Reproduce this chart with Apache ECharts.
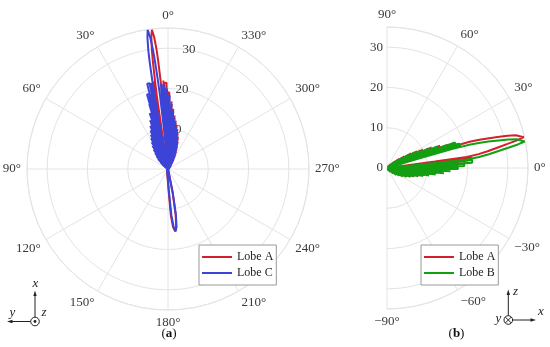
<!DOCTYPE html>
<html><head><meta charset="utf-8">
<script src="https://cdn.jsdelivr.net/npm/echarts@6/dist/echarts.min.js"></script>
<style>html,body{margin:0;padding:0;background:#fff}#c{width:550px;height:347px}</style>
</head><body><div id="c"></div>
<script>
// [angle (deg), value] pairs
const lobeA_left = [[0,19],[0.6,19],[0.8,0.2],[1.0,21.4],[2.6,21.4],[2.8,0.2],[3.0,22],[3.6,22],[3.8,0.2],[4.1,10],[4.5,18],[4.8,22],[5.2,27],[5.5,30],[6.0,33],[6.6,34.8],[7.2,33],[7.7,30],[8.0,27],[8.4,22],[8.7,18],[9.1,10],[9.4,0.2],[9.6,22],[10.0,22],[10.2,0.2],[10.4,21.5],[12.0,21.5],[12.2,0.2],[12.4,18.8],[14.0,18.8],[14.2,0.2],[14.4,16.4],[16.0,16.4],[16.2,0.2],[16.4,14.4],[18.1,14.4],[18.3,0.2],[18.5,12.8],[20.2,12.8],[20.4,0.2],[20.6,11.6],[22.4,11.6],[22.6,0.2],[22.8,10.5],[24.6,10.5],[24.8,0.2],[25.0,9.5],[26.9,9.5],[27.1,0.2],[27.3,8.6],[29.3,8.6],[29.5,0.2],[29.7,7.7],[31.8,7.7],[32.0,0.2],[32.2,6.8],[34.4,6.8],[34.6,0.2],[34.8,5.9],[37.1,5.9],[37.3,0.2],[37.5,5.0],[40.0,5.0],[40.2,0.2],[40.4,4.0],[43.1,4.0],[43.3,0.2],[43.5,3.0],[46.4,3.0],[46.6,0.2],[46.8,2.0],[50.0,2.0],[50.2,0.2],[50.4,1.2],[53.8,1.2],[54,0.2],[70,0.5],[90,0.4],[110,0.5],[130,0.4],[150,0.5],[170,0.5],[180,0.3],[180.5,0.2],[182,6],[183.5,11.5],[185,14.5],[186.5,15.6],[188,14.5],[189.5,11.5],[191,6],[192.5,0.2],[210,0.5],[230,0.4],[250,0.5],[270,0.4],[290,0.5],[310,0.4],[322,0.2],[322.2,1.1],[325.8,1.1],[326,0.2],[326.2,1.8],[329.1,1.8],[329.3,0.2],[329.5,2.7],[332.0,2.7],[332.2,0.2],[332.4,3.7],[334.7,3.7],[334.9,0.2],[335.1,4.8],[337.2,4.8],[337.4,0.2],[337.6,6.0],[339.6,6.0],[339.8,0.2],[340.0,7.2],[341.9,7.2],[342.1,0.2],[342.3,8.3],[344.1,8.3],[344.3,0.2],[344.5,9.2],[346.3,9.2],[346.5,0.2],[346.7,10.2],[348.4,10.2],[348.6,0.2],[348.8,11.2],[350.5,11.2],[350.7,0.2],[350.9,12.2],[352.6,12.2],[352.8,0.2],[353.0,13.4],[354.6,13.4],[354.8,0.2],[355.0,15.0],[356.6,15.0],[356.8,0.2],[357.0,16.8],[358.6,16.8],[358.8,0.2],[359.0,19],[360,19]];

const lobeC_left = [[0,18.2],[0.3,18.2],[0.5,0.2],[0.7,19.8],[2.3,19.8],[2.5,0.2],[2.7,20.8],[4.3,20.8],[4.5,0.2],[4.7,21.2],[5.3,21.2],[5.5,0.2],[5.8,10],[6.2,18],[6.5,22],[6.9,27],[7.2,30],[7.7,33],[8.3,35],[8.9,33],[9.4,30],[9.7,27],[10.1,22],[10.4,18],[10.8,10],[11.1,0.2],[11.3,21.8],[11.7,21.8],[11.9,0.2],[12.1,21.8],[13.7,21.8],[13.9,0.2],[14.1,19.2],[15.7,19.2],[15.9,0.2],[16.1,16.8],[17.7,16.8],[17.9,0.2],[18.1,14.6],[19.8,14.6],[20.0,0.2],[20.2,12.9],[21.9,12.9],[22.1,0.2],[22.3,11.6],[24.1,11.6],[24.3,0.2],[24.5,10.5],[26.3,10.5],[26.5,0.2],[26.7,9.5],[28.6,9.5],[28.8,0.2],[29.0,8.7],[31.0,8.7],[31.2,0.2],[31.4,7.8],[33.5,7.8],[33.7,0.2],[33.9,6.9],[36.1,6.9],[36.3,0.2],[36.5,6.0],[38.8,6.0],[39.0,0.2],[39.2,5.1],[41.7,5.1],[41.9,0.2],[42.1,4.3],[44.8,4.3],[45.0,0.2],[45.2,3.5],[48.1,3.5],[48.3,0.2],[48.5,2.6],[51.6,2.6],[51.8,0.2],[52.0,1.7],[55.3,1.7],[55.5,0.2],[55.7,1.0],[59.3,1.0],[59.5,0.2],[75,0.5],[95,0.4],[115,0.5],[135,0.4],[155,0.5],[172,0.5],[180,0.3],[181,0.2],[182.6,6],[184.2,11.5],[185.6,14.5],[187,15.6],[188.4,14.5],[189.8,11.5],[191.4,6],[193,0.2],[205,0.5],[225,0.4],[245,0.5],[265,0.4],[285,0.5],[305,0.4],[318,0.5],[323.7,0.2],[323.9,1.3],[327.5,1.3],[327.7,0.2],[327.9,2.1],[330.8,2.1],[331.0,0.2],[331.2,3.1],[333.7,3.1],[333.9,0.2],[334.1,4.2],[336.4,4.2],[336.6,0.2],[336.8,5.4],[338.9,5.4],[339.1,0.2],[339.3,6.6],[341.3,6.6],[341.5,0.2],[341.7,7.7],[343.6,7.7],[343.8,0.2],[344.0,8.6],[345.8,8.6],[346.0,0.2],[346.2,9.6],[348.0,9.6],[348.2,0.2],[348.4,10.6],[350.1,10.6],[350.3,0.2],[350.5,11.6],[352.2,11.6],[352.4,0.2],[352.6,12.8],[354.3,12.8],[354.5,0.2],[354.7,14.4],[356.3,14.4],[356.5,0.2],[356.7,16.2],[358.3,16.2],[358.5,0.2],[358.7,18.2],[360,18.2]];

const lobeA_right = [[-90,0.2],[-80,0.4],[-65,0.5],[-52,0.4],[-45,0.2],[-44.8,1.2],[-39.7,1.2],[-39.5,0.2],[-39.3,2.0],[-34.7,2.0],[-34.5,0.2],[-34.3,2.8],[-30.2,2.8],[-30.0,0.2],[-29.8,3.6],[-26.2,3.6],[-26.0,0.2],[-25.8,4.5],[-22.6,4.5],[-22.4,0.2],[-22.2,5.4],[-19.2,5.4],[-19.0,0.2],[-18.8,6.3],[-16.2,6.3],[-16.0,0.2],[-15.8,7.2],[-13.4,7.2],[-13.2,0.2],[-13.0,8.3],[-10.8,8.3],[-10.6,0.2],[-10.4,9.5],[-8.4,9.5],[-8.2,0.2],[-8.0,10.9],[-6.1,10.9],[-5.9,0.2],[-5.7,12.4],[-3.8,12.4],[-3.6,0.2],[-3.4,13.9],[-1.6,13.9],[-1.4,0.2],[-1.2,15.6],[0.6,15.6],[0.8,0.2],[1.0,17.4],[2.8,17.4],[3.0,0.2],[3.2,19.3],[5.0,19.3],[5.2,0.2],[5.4,21],[7.1,21],[7.3,0.2],[7.6,12],[7.9,20],[8.6,23],[9.5,25.5],[10.5,28],[11.3,30.5],[12.0,33],[12.7,34.8],[13.5,34.5],[14.3,33],[15.0,31],[15.7,28.5],[16.4,26],[17.0,24],[17.6,21.5],[18.0,17],[18.3,8],[18.5,0.2],[18.7,18.8],[20.3,18.8],[20.5,0.2],[20.7,16.3],[22.4,16.3],[22.6,0.2],[22.8,14.3],[24.5,14.3],[24.7,0.2],[24.9,12.2],[26.6,12.2],[26.8,0.2],[27.0,10.0],[28.8,10.0],[29.0,0.2],[29.2,8.5],[31.1,8.5],[31.3,0.2],[31.5,7.0],[33.5,7.0],[33.7,0.2],[33.9,5.2],[36.0,5.2],[36.2,0.2],[36.4,3.8],[38.8,3.8],[39.0,0.2],[39.2,2.6],[41.8,2.6],[42.0,0.2],[42.2,1.5],[45.3,1.5],[45.5,0.2],[45.7,0.9],[48.8,0.9],[49,0.2],[60,0.5],[75,0.4],[90,0.2]];

const lobeB_right = [[-90,0.2],[-80,0.4],[-65,0.5],[-53,0.4],[-47,0.2],[-46.8,1.3],[-41.7,1.3],[-41.5,0.2],[-41.3,2.1],[-36.7,2.1],[-36.5,0.2],[-36.3,2.9],[-32.2,2.9],[-32.0,0.2],[-31.8,3.6],[-28.2,3.6],[-28.0,0.2],[-27.8,4.4],[-24.6,4.4],[-24.4,0.2],[-24.2,5.3],[-21.2,5.3],[-21.0,0.2],[-20.8,6.2],[-18.2,6.2],[-18.0,0.2],[-17.8,7.0],[-15.4,7.0],[-15.2,0.2],[-15.0,8.0],[-12.8,8.0],[-12.6,0.2],[-12.4,9.2],[-10.4,9.2],[-10.2,0.2],[-10.0,10.6],[-8.0,10.6],[-7.8,0.2],[-7.6,12.2],[-5.7,12.2],[-5.5,0.2],[-5.3,14.2],[-3.4,14.2],[-3.2,0.2],[-3.0,15.8],[-1.2,15.8],[-1.0,0.2],[-0.8,17.6],[1.0,17.6],[1.2,0.2],[1.4,19.2],[3.2,19.2],[3.4,0.2],[3.6,21.2],[5.3,21.2],[5.5,0.2],[5.8,12],[6.1,20],[6.8,23],[7.7,25.5],[8.7,28],[9.5,30.5],[10.2,33],[10.9,34.8],[11.7,34.5],[12.5,33],[13.2,31],[13.9,28.5],[14.6,26],[15.2,24],[15.8,21.5],[16.2,17],[16.5,8],[16.7,0.2],[16.9,19],[18.5,19],[18.7,0.2],[18.9,18],[20.6,18],[20.8,0.2],[21.0,15.8],[22.7,15.8],[22.9,0.2],[23.1,13.6],[24.8,13.6],[25.0,0.2],[25.2,11.4],[27.0,11.4],[27.2,0.2],[27.4,9.3],[29.3,9.3],[29.5,0.2],[29.7,7.8],[31.7,7.8],[31.9,0.2],[32.1,6.2],[34.2,6.2],[34.4,0.2],[34.6,4.6],[37.0,4.6],[37.2,0.2],[37.4,3.3],[40.0,3.3],[40.2,0.2],[40.4,2.1],[43.5,2.1],[43.7,0.2],[43.9,1.2],[47.0,1.2],[47.2,0.2],[60,0.5],[75,0.4],[90,0.2]];

const legendLeft = ['Lobe A', 'Lobe C'];
const legendRight = ['Lobe A', 'Lobe B'];
const panelLabels = ['a', 'b'];

const FONT = '"Liberation Serif", "DejaVu Serif", serif';
const GRID = '#e4e4e4';
const TXT = '#3a3a3a';
const RED = '#d2202c', BLUE = '#3c44d8', GREEN = '#12a012';
const LW = 2.0;

const toPolar = arr => arr.map(p => [p[1], p[0]]);
const lblStyle = {color: TXT, fontSize: 13, fontFamily: FONT};

const chart = echarts.init(document.getElementById('c'), null, {renderer: 'canvas'});

function triadText(t, x, y) {
  return {type: 'text', x: x, y: y, z: 10, style: {text: t, font: 'italic 13px ' + FONT, fill: '#222', align: 'center', verticalAlign: 'middle', textAlign: 'center', textVerticalAlign: 'middle'}};
}
const stroke = {stroke: '#222', lineWidth: 1};

const option = {
  animation: false,
  backgroundColor: '#fff',
  polar: [
    {center: [168, 169], radius: 141},
    {center: [387, 168], radius: 141},
    {center: [168, 169], radius: 141},
    {center: [387, 168], radius: 141}
  ],
  angleAxis: [
    {polarIndex: 0, type: 'value', min: 0, max: 360, interval: 30, startAngle: 90, clockwise: false,
      axisLine: {lineStyle: {color: GRID, width: 1}}, axisTick: {show: false},
      splitLine: {lineStyle: {color: GRID, width: 1}},
      axisLabel: Object.assign({margin: 6, formatter: v => v === 360 ? '' : v + '°'}, lblStyle)},
    {polarIndex: 1, type: 'value', min: -90, max: 90, interval: 30, startAngle: -90, endAngle: 90, clockwise: false,
      axisLine: {lineStyle: {color: GRID, width: 1}}, axisTick: {show: false},
      splitLine: {lineStyle: {color: GRID, width: 1}},
      axisLabel: Object.assign({margin: 6, formatter: v => (v < 0 ? '\u2212' + (-v) : v) + '°'}, lblStyle)},
    {polarIndex: 2, type: 'value', min: 0, max: 360, startAngle: 80, clockwise: false, show: false},
    {polarIndex: 3, type: 'value', min: 0, max: 360, startAngle: 90, clockwise: false, show: false}
  ],
  radiusAxis: [
    {polarIndex: 0, type: 'value', min: 0, max: 35, interval: 10, axisLine: {show: false}, axisTick: {show: false},
      axisLabel: {show: false}, splitLine: {lineStyle: {color: GRID, width: 1}}},
    {polarIndex: 1, type: 'value', min: 0, max: 35, interval: 10, axisLine: {show: false}, axisTick: {show: false},
      axisLabel: {show: false}, splitLine: {lineStyle: {color: GRID, width: 1}}},
    {polarIndex: 2, type: 'value', min: 0, max: 35, interval: 10, axisLine: {show: false}, axisTick: {show: false},
      splitLine: {show: false},
      axisLabel: Object.assign({margin: 0, align: 'center', verticalAlign: 'middle', showMinLabel: false, showMaxLabel: false}, lblStyle)},
    {polarIndex: 3, type: 'value', min: 0, max: 35, interval: 10, axisLine: {show: false}, axisTick: {show: false},
      splitLine: {show: false},
      axisLabel: Object.assign({margin: 4, showMaxLabel: false}, lblStyle)}
  ],
  legend: [
    {data: legendLeft, left: 199, top: 245, orient: 'vertical', icon: 'rect', itemWidth: 30, itemHeight: 2, itemGap: 2,
      padding: [5, 3, 5, 3], borderColor: '#9a9a9a', borderWidth: 1, backgroundColor: '#fff',
      textStyle: {fontFamily: FONT, fontSize: 12, color: '#222', lineHeight: 14}, selectedMode: false},
    {data: legendRight, left: 421, top: 245, orient: 'vertical', icon: 'rect', itemWidth: 30, itemHeight: 2, itemGap: 2,
      padding: [5, 3, 5, 3], borderColor: '#9a9a9a', borderWidth: 1, backgroundColor: '#fff',
      textStyle: {fontFamily: FONT, fontSize: 12, color: '#222', lineHeight: 14}, selectedMode: false}
  ],
  series: [
    {name: 'Lobe A', type: 'line', coordinateSystem: 'polar', polarIndex: 0, data: toPolar(lobeA_left),
      symbol: 'none', lineStyle: {color: RED, width: LW}, itemStyle: {color: RED}, z: 3},
    {name: 'Lobe C', type: 'line', coordinateSystem: 'polar', polarIndex: 0, data: toPolar(lobeC_left),
      symbol: 'none', lineStyle: {color: BLUE, width: LW}, itemStyle: {color: BLUE}, z: 4},
    {name: 'Lobe A', type: 'line', coordinateSystem: 'polar', polarIndex: 1, data: toPolar(lobeA_right),
      symbol: 'none', lineStyle: {color: RED, width: LW}, itemStyle: {color: RED}, z: 3},
    {name: 'Lobe B', type: 'line', coordinateSystem: 'polar', polarIndex: 1, data: toPolar(lobeB_right),
      symbol: 'none', lineStyle: {color: GREEN, width: LW}, itemStyle: {color: GREEN}, z: 4}
  ],
  graphic: [
    {type: 'line', shape: {x1: 35, y1: 317, x2: 35, y2: 294}, style: stroke, z: 10},
    {type: 'polygon', shape: {points: [[35, 290.5], [33.3, 296], [36.7, 296]]}, style: {fill: '#222'}, z: 10},
    {type: 'line', shape: {x1: 30.7, y1: 321.5, x2: 11, y2: 321.5}, style: stroke, z: 10},
    {type: 'polygon', shape: {points: [[7, 321.5], [12.5, 319.8], [12.5, 323.2]]}, style: {fill: '#222'}, z: 10},
    {type: 'circle', shape: {cx: 35, cy: 321.5, r: 4.3}, style: {stroke: '#222', lineWidth: 1, fill: '#fff'}, z: 10},
    {type: 'circle', shape: {cx: 35, cy: 321.5, r: 1.4}, style: {fill: '#222'}, z: 11},
    triadText('x', 35.5, 283.5), triadText('y', 12.5, 312.5), triadText('z', 44, 313),
    {type: 'line', shape: {x1: 508.3, y1: 315.7, x2: 508.3, y2: 293}, style: stroke, z: 10},
    {type: 'polygon', shape: {points: [[508.3, 289.5], [506.6, 295], [510, 295]]}, style: {fill: '#222'}, z: 10},
    {type: 'line', shape: {x1: 512.6, y1: 320, x2: 532, y2: 320}, style: stroke, z: 10},
    {type: 'polygon', shape: {points: [[536, 320], [530.5, 318.3], [530.5, 321.7]]}, style: {fill: '#222'}, z: 10},
    {type: 'circle', shape: {cx: 508.3, cy: 320, r: 4.3}, style: {stroke: '#222', lineWidth: 1, fill: '#fff'}, z: 10},
    {type: 'line', shape: {x1: 505.4, y1: 317.1, x2: 511.2, y2: 322.9}, style: stroke, z: 11},
    {type: 'line', shape: {x1: 505.4, y1: 322.9, x2: 511.2, y2: 317.1}, style: stroke, z: 11},
    triadText('z', 515.5, 291.5), triadText('x', 541, 312), triadText('y', 498.5, 318.5),
    {type: 'text', x: 169, y: 334, z: 10, style: {text: '({b|' + panelLabels[0] + '})', font: '13px ' + FONT, fill: '#111',
      align: 'center', verticalAlign: 'middle', textAlign: 'center', textVerticalAlign: 'middle',
      rich: {b: {fontWeight: 'bold', fontSize: 13, fontFamily: FONT, fill: '#111'}}}},
    {type: 'text', x: 456.5, y: 334, z: 10, style: {text: '({b|' + panelLabels[1] + '})', font: '13px ' + FONT, fill: '#111',
      align: 'center', verticalAlign: 'middle', textAlign: 'center', textVerticalAlign: 'middle',
      rich: {b: {fontWeight: 'bold', fontSize: 13, fontFamily: FONT, fill: '#111'}}}}
  ]
};
chart.setOption(option);
</script>
</body></html>
